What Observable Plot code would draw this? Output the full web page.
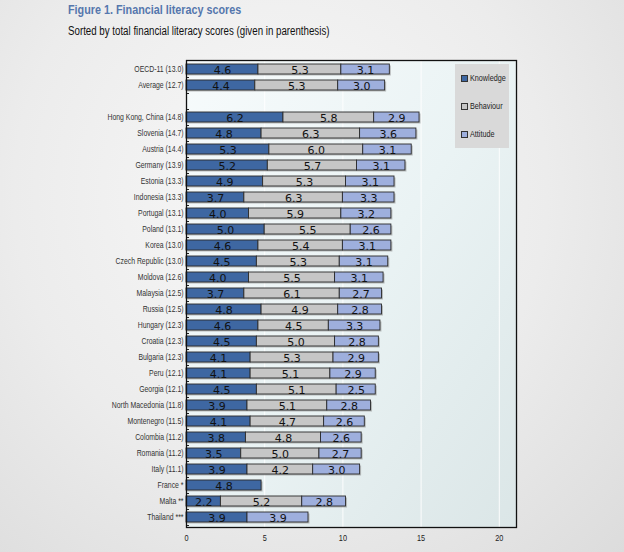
<!DOCTYPE html>
<html>
<head>
<meta charset="utf-8">
<script src="https://cdn.jsdelivr.net/npm/d3@7"></script>
<script src="https://cdn.jsdelivr.net/npm/@observablehq/plot@0.6"></script>
<style>
  html, body { margin: 0; padding: 0; }
  body {
    width: 624px; height: 552px; position: relative; overflow: hidden;
    background: radial-gradient(ellipse at 45% 35%, #f8f8f8 0%, #ececec 55%, #dcdcdc 100%);
    font-family: "Liberation Sans", Arial, sans-serif;
  }
  #title { position: absolute; left: 68px; top: 2px; font-size: 13px; font-weight: bold; color: #5577ad; white-space: nowrap; transform: scaleX(0.83); transform-origin: 0 0; }
  #subtitle { position: absolute; left: 68px; top: 24px; font-size: 12px; color: #111; white-space: nowrap; transform: scaleX(0.81); transform-origin: 0 0; }
  #chart { position: absolute; left: 0; top: 45px; }
  #legend { position: absolute; left: 455px; top: 64px; width: 54px; height: 84px; background: #d9d9d9; font-size: 8.5px; color: #222; }
  .item { position: absolute; left: 6px; display: flex; align-items: center; white-space: nowrap; }
  .lt { display: inline-block; transform: scaleX(0.85); transform-origin: 0 50%; }
  .sw { width: 5px; height: 5px; border: 1px solid #333; margin-right: 2px; }
</style>
</head>
<body>
<div id="title">Figure 1. Financial literacy scores</div>
<div id="subtitle">Sorted by total financial literacy scores (given in parenthesis)</div>
<div id="chart"></div>
<div id="legend"></div>
<script>
const labels = ["OECD-11 (13.0)", "Average (12.7)", " ", "Hong Kong, China (14.8)", "Slovenia (14.7)", "Austria (14.4)", "Germany (13.9)", "Estonia (13.3)", "Indonesia (13.3)", "Portugal (13.1)", "Poland (13.1)", "Korea (13.0)", "Czech Republic (13.0)", "Moldova (12.6)", "Malaysia (12.5)", "Russia (12.5)", "Hungary (12.3)", "Croatia (12.3)", "Bulgaria (12.3)", "Peru (12.1)", "Georgia (12.1)", "North Macedonia (11.8)", "Montenegro (11.5)", "Colombia (11.2)", "Romania (11.2)", "Italy (11.1)", "France *", "Malta **", "Thailand ***"];
const knowledge = [4.6, 4.4, null, 6.2, 4.8, 5.3, 5.2, 4.9, 3.7, 4.0, 5.0, 4.6, 4.5, 4.0, 3.7, 4.8, 4.6, 4.5, 4.1, 4.1, 4.5, 3.9, 4.1, 3.8, 3.5, 3.9, 4.8, 2.2, 3.9];
const behaviour = [5.3, 5.3, null, 5.8, 6.3, 6.0, 5.7, 5.3, 6.3, 5.9, 5.5, 5.4, 5.3, 5.5, 6.1, 4.9, 4.5, 5.0, 5.3, 5.1, 5.1, 5.1, 4.7, 4.8, 5.0, 4.2, null, 5.2, null];
const attitude = [3.1, 3.0, null, 2.9, 3.6, 3.1, 3.1, 3.1, 3.3, 3.2, 2.6, 3.1, 3.1, 3.1, 2.7, 2.8, 3.3, 2.8, 2.9, 2.9, 2.5, 2.8, 2.6, 2.6, 2.7, 3.0, null, 2.8, 3.9];
const components = ["Knowledge", "Behaviour", "Attitude"];
const colors = ["#3e67a2", "#c6c6c6", "#9eafdd"];
const xTicks = [0, 5, 10, 15, 20];

const series = [knowledge, behaviour, attitude];
const data = [];
labels.forEach((label, i) => {
  components.forEach((c, j) => {
    const v = series[j][i];
    if (v != null) data.push({label, component: c, value: v});
  });
});

const chart = Plot.plot({
  width: 624,
  height: 507,
  marginLeft: 186,
  marginRight: 108,
  marginTop: 15,
  marginBottom: 25,
  style: {background: "transparent", overflow: "visible"},
  x: {domain: [0, 21.1], ticks: xTicks, label: null},
  y: {type: "band", domain: labels, paddingInner: 0.36, paddingOuter: 0.18, label: null},
  color: {domain: components, range: colors},
  marks: [
    Plot.frame({fill: "url(#plotbg)", stroke: "none"}),
    Plot.gridX(xTicks.slice(1), {stroke: "#ffffff", strokeOpacity: 0.9, strokeWidth: 1}),
    Plot.barX(data, Plot.stackX({x: "value", y: "label", z: "component", fill: "#8a8a8a", fillOpacity: 0.55, dx: 1.5, dy: 1.5})),
    Plot.barX(data, Plot.stackX({x: "value", y: "label", z: "component", fill: "component", stroke: "#2a2a2a", strokeWidth: 0.9})),
    Plot.text(data, Plot.stackX({x: "value", y: "label", z: "component", text: d => d3.format(".1f")(d.value), fill: "#111", fontSize: 11, fontFamily: "DejaVu Sans, sans-serif", dy: 0.5})),
    Plot.axisY({tickSize: 0, tickPadding: 3, fontSize: 8.5, fill: "#333", label: null, tickFormat: d => d.trim(), fontFamily: "Liberation Sans, Arial, sans-serif", className: "ylab"}),
    Plot.axisY({tickSize: 3, dx: 3, dy: 8, text: null, label: null, stroke: "#222", tickFormat: () => ""}),
    Plot.axisX({ticks: xTicks, tickSize: 0, tickPadding: 7, fontSize: 8.5, fill: "#222", label: null, fontFamily: "Liberation Sans, Arial, sans-serif", className: "xlab"}),
    Plot.frame({stroke: "#111", strokeWidth: 1.3})
  ]
});

// condense axis label glyphs (narrow font look)
d3.select(chart).selectAll(".ylab text").each(function () {
  const t = this.getAttribute("transform") || "";
  this.setAttribute("transform", t + " scale(0.81,1)");
});
d3.select(chart).selectAll(".xlab text").each(function () {
  const t = this.getAttribute("transform") || "";
  this.setAttribute("transform", t + " scale(0.86,1)");
});

const defs = d3.select(chart).insert("defs", ":first-child");
const g = defs.append("linearGradient").attr("id", "plotbg").attr("x1", "0").attr("y1", "0").attr("x2", "1").attr("y2", "1");
g.append("stop").attr("offset", "0%").attr("stop-color", "#f7fbfc");
g.append("stop").attr("offset", "50%").attr("stop-color", "#eaf3f4");
g.append("stop").attr("offset", "100%").attr("stop-color", "#dbe6e7");

document.getElementById("chart").appendChild(chart);

const legend = document.getElementById("legend");
const tops = [9, 37, 65];
components.forEach((c, i) => {
  const item = document.createElement("div");
  item.className = "item";
  item.style.top = tops[i] + "px";
  item.innerHTML = `<span class="sw" style="background:${colors[i]}"></span><span class="lt">${c}</span>`;
  legend.appendChild(item);
});
</script>
</body>
</html>
